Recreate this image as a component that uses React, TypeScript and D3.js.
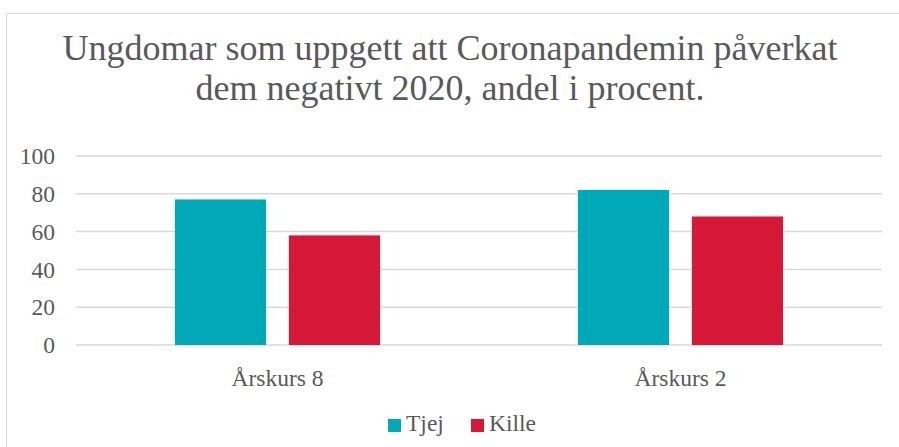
import React from "react";
import * as d3 from "d3";

const categories = ["Årskurs 8", "Årskurs 2"];
const seriesNames = ["Tjej", "Kille"];
const tjejValues = [77, 82];
const killeValues = [58, 68];
const yTicks = [0, 20, 40, 60, 80, 100];
const titleLines = [
  "Ungdomar som uppgett att Coronapandemin påverkat",
  "dem negativt 2020, andel i procent.",
];

const width = 899;
const height = 447;
const colors = ["#00a8b8", "#d51838"];
const textColor = "#595959";
const gridColor = "#d9d9d9";
const font = "Liberation Serif, Tinos, Times New Roman, DejaVu Serif, serif";

const App = () => {
  const plot = { left: 76, right: 882, top: 156, bottom: 345 };

  const y = d3.scaleLinear().domain([0, 100]).range([plot.bottom, plot.top]);
  const x0 = d3.scaleBand<string>().domain(categories).range([plot.left, plot.right]);
  const x1 = d3
    .scaleBand<string>()
    .domain(seriesNames)
    .range([0, x0.bandwidth()])
    .paddingInner(0.2)
    .paddingOuter(0.868);

  const values = [tjejValues, killeValues];

  return (
    <div style={{ position: "fixed", left: 0, top: 0 }}>
      <svg width={width} height={height} style={{ display: "block", background: "#fff", fontFamily: font }}>
        <rect x={6.5} y={13.5} width={width} height={height} fill="#fff" stroke={gridColor} strokeWidth={1} />

        {titleLines.map((line, i) => (
          <text
            key={i}
            x={450}
            y={60 + i * 39.5}
            textAnchor="middle"
            style={{ fontFamily: font }}
            fontSize={36}
            fill={textColor}
          >
            {line}
          </text>
        ))}

        {yTicks.map(t => (
          <g key={t}>
            <line x1={plot.left} x2={plot.right} y1={y(t)} y2={y(t)} stroke={gridColor} strokeWidth={1.5} />
            <text
              x={55}
              y={y(t)}
              dy="0.35em"
              textAnchor="end"
              style={{ fontFamily: font }}
              fontSize={23.5}
              fill={textColor}
            >
              {t}
            </text>
          </g>
        ))}

        {categories.map((c, ci) => (
          <g key={c}>
            {seriesNames.map((s, si) => (
              <rect
                key={s}
                x={(x0(c) ?? 0) + (x1(s) ?? 0)}
                y={y(values[si][ci])}
                width={x1.bandwidth()}
                height={y(0) - y(values[si][ci])}
                fill={colors[si]}
              />
            ))}
            <text
              x={(x0(c) ?? 0) + x0.bandwidth() / 2}
              y={386}
              textAnchor="middle"
              style={{ fontFamily: font }}
              fontSize={23.5}
              fill={textColor}
            >
              {c}
            </text>
          </g>
        ))}

        {seriesNames.map((s, si) => {
          const lx = si === 0 ? 388 : 471;
          return (
            <g key={s}>
              <rect x={lx} y={419} width={13} height={13} fill={colors[si]} />
              <text x={lx + 18} y={431} style={{ fontFamily: font }} fontSize={23.5} fill={textColor}>
                {s}
              </text>
            </g>
          );
        })}
      </svg>
    </div>
  );
};

export default App;
